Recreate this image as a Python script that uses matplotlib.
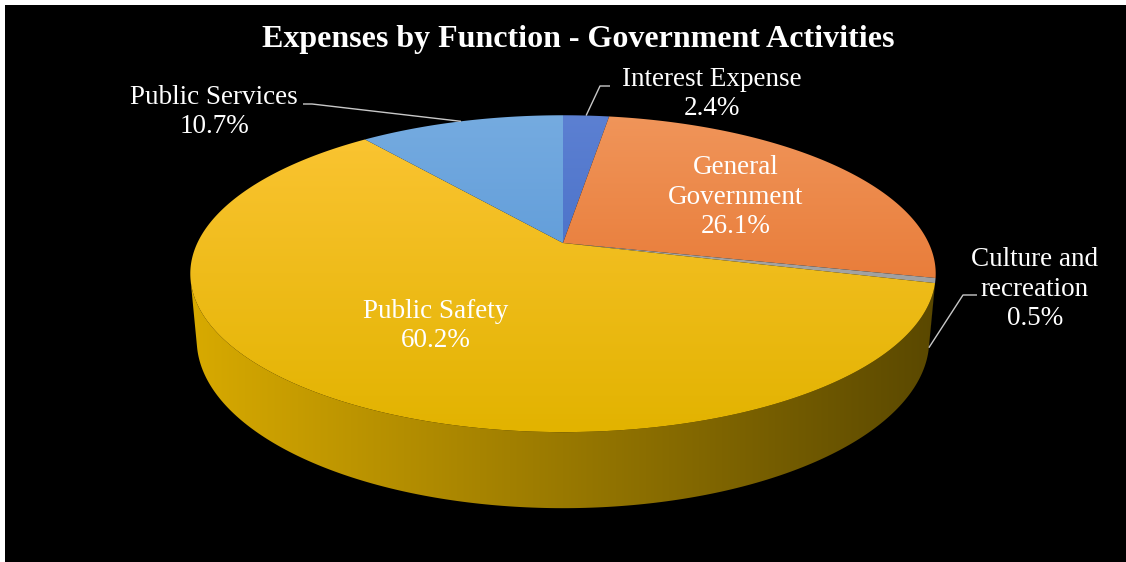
import numpy as np
import matplotlib
matplotlib.use("Agg")
import matplotlib.pyplot as plt
from matplotlib.patches import Polygon, Rectangle
from matplotlib.colors import to_rgb

# ---------------- data ----------------
title = "Expenses by Function - Government Activities"
categories = ["Interest Expense", "General Government", "Culture and recreation",
              "Public Safety", "Public Services"]
label_lines = ["Interest Expense", "General\nGovernment", "Culture and\nrecreation",
               "Public Safety", "Public Services"]
values = [2.4, 26.1, 0.5, 60.2, 10.7]

# top-face gradient (top colour, bottom colour) and wall gradient (left, right)
top_colors = [("#5C80D2", "#3862BF"), ("#F0955A", "#E2671D"), ("#ABABAB", "#999999"),
              ("#FCC535", "#E2B300"), ("#75ABE0", "#4A8DD2")]
wall_colors = [("#2F4F9A", "#1E3368"), ("#B8551A", "#6E3410"), ("#8C8C8C", "#505050"),
               ("#D8AA00", "#5A4800"), ("#3F78B0", "#284C70")]

# ---------------- layout ----------------
W, H = 1126, 562
fig = plt.figure(figsize=(W / 100, H / 100), dpi=100, facecolor="white")
ax = fig.add_axes([0, 0, 1, 1])
ax.set_xlim(0, W)
ax.set_ylim(H, 0)
ax.axis("off")
ax.add_patch(Rectangle((5, 5), W, H, facecolor="black", edgecolor="none", zorder=0))

# perspective camera for the 3-D pie
phi = np.radians(24.2)
dist = 4.71
R = 1.0
hgt = 0.194
F = 1752.0
Fx = F * 0.983
cx, cy = 563.0, 243.0
cam = np.array([0.0, dist * np.sin(phi), -dist * np.cos(phi)])
fwd = np.array([0.0, -np.sin(phi), np.cos(phi)])
upv = np.array([0.0, np.cos(phi), np.sin(phi)])


def project(x, yw, z):
    x = np.asarray(x, float)
    d = np.stack([x - cam[0],
                  np.asarray(yw, float) - cam[1] + 0 * x,
                  np.asarray(z, float) - cam[2]], axis=-1)
    depth = d @ fwd
    up = d @ upv
    return cx + Fx * d[..., 0] / depth, cy - F * up / depth


def rim(theta_deg, yw):
    t = np.radians(theta_deg)
    return project(R * np.sin(t), np.full_like(t, yw), R * np.cos(t))


def gradient_fill(poly_xy, c0, c1, vertical, extent, z):
    n = 256
    c0, c1 = np.array(to_rgb(c0)), np.array(to_rgb(c1))
    s = np.linspace(0, 1, n)[:, None]
    cols = c0 * (1 - s) + c1 * s
    img = cols[:, None, :] if vertical else cols[None, :, :]
    patch = Polygon(poly_xy, closed=True, facecolor="none", edgecolor="none")
    ax.add_patch(patch)
    x0, x1, y0, y1 = extent
    im = ax.imshow(img, extent=(x0, x1, y1, y0), origin="upper", aspect="auto",
                   interpolation="bilinear", zorder=z)
    im.set_clip_path(patch)


vals = np.array(values, float)
fracs = vals / vals.sum()
edges = np.concatenate([[0.0], np.cumsum(fracs) * 360.0])

# extents of the pie for gradient spans
_, ytop_face = rim(np.array([0.0]), 0.0)
_, ybot_face = rim(np.array([180.0]), 0.0)
ang_all = np.linspace(0, 360, 721)
xa, _ = rim(ang_all, 0.0)
xl, xr = xa.min(), xa.max()

# visible outer wall range
th_v0 = np.degrees(np.arccos(-R / (dist * np.cos(phi))))
th_v1 = 360.0 - th_v0

for i in range(len(vals)):
    a0, a1 = edges[i], edges[i + 1]
    t0, t1 = max(a0, th_v0), min(a1, th_v1)
    if t1 > t0:
        th = np.linspace(t0, t1, 200)
        xt, yt = rim(th, 0.0)
        xb, yb = rim(th[::-1], -hgt)
        poly = np.column_stack([np.concatenate([xt, xb]), np.concatenate([yt, yb])])
        gradient_fill(poly, wall_colors[i][0], wall_colors[i][1], False,
                      (xl, xr, ytop_face, ybot_face + 100), 1)

for i in range(len(vals)):
    a0, a1 = edges[i], edges[i + 1]
    th = np.linspace(a0, a1, max(int((a1 - a0) * 2), 4))
    xt, yt = rim(th, 0.0)
    poly = np.column_stack([np.concatenate([[cx], xt]), np.concatenate([[cy], yt])])
    gradient_fill(poly, top_colors[i][0], top_colors[i][1], True,
                  (xl, xr, ytop_face, ybot_face), 2)

ax.set_xlim(0, W)
ax.set_ylim(H, 0)

# ---------------- labels ----------------
serif = ["Liberation Serif", "DejaVu Serif"]
ax.text(578, 40, title, ha="center", va="center", color="white", fontsize=23,
        fontweight="bold", family=serif, zorder=5)

label_pos = [(712, 94), (736, 197), (1035, 289), (436, 326), (214, 112)]
# leader lines: (text-side start, elbow); anchor computed from slice geometry
leader = {0: [(610, 86), (600, 86)], 2: [(977, 295), (963, 295)], 4: [(303, 104), (312, 104)]}

for i, (lx, ly) in enumerate(label_pos):
    txt = f"{label_lines[i]}\n{vals[i]:.1f}%"
    ax.text(lx, ly, txt, ha="center", va="center", multialignment="center",
            color="white", fontsize=19.5, family=serif, linespacing=1.22, zorder=5)
    if i in leader:
        mid = (edges[i] + edges[i + 1]) / 2
        if th_v0 <= mid <= th_v1:
            axx, ayy = rim(np.array([mid]), -hgt)
        else:
            axx, ayy = rim(np.array([mid]), 0.0)
        pts = leader[i] + [(float(axx[0]), float(ayy[0]))]
        ax.plot([p[0] for p in pts], [p[1] for p in pts], color="#C8C8C8", lw=1.0,
                zorder=4, solid_capstyle="butt")

fig.savefig("out.png", dpi=100, facecolor="white")
